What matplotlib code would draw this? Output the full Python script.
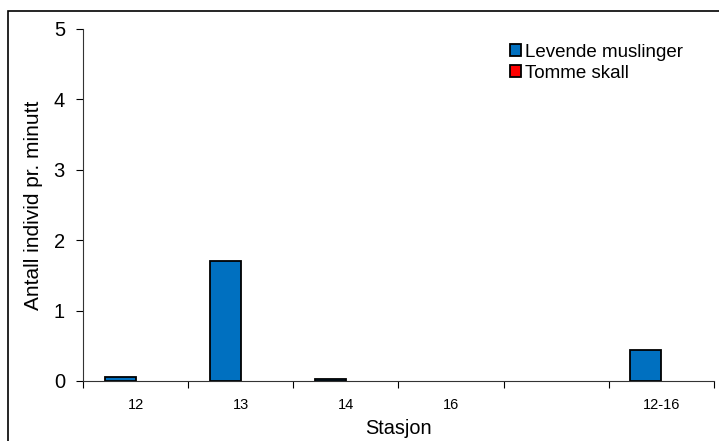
import numpy as np
import matplotlib.pyplot as plt
from matplotlib.patches import Rectangle, Patch

plt.rcParams['font.family'] = ['Liberation Sans', 'DejaVu Sans']

stations = ["12", "13", "14", "16", "", "12-16"]
levende = [0.05, 1.7, 0.025, 0, 0, 0.44]
tomme = [0, 0, 0, 0, 0, 0]

fig = plt.figure(figsize=(7.19, 4.41), dpi=100)
ax = fig.add_axes([83/719, 1 - 381/441, (714 - 83)/719, (381 - 29)/441])

# frame around the whole chart (cut by the image edge)
fig.patches.append(Rectangle((8/719, -0.2), 1.2, 0.2 + (441 - 11)/441,
                             transform=fig.transFigure, fill=False,
                             edgecolor="black", linewidth=1.2))

x = np.arange(len(stations))
w = 0.295
edges_l = ["black" if v > 0 else "none" for v in levende]
edges_t = ["black" if v > 0 else "none" for v in tomme]
ax.bar(x - w/2, levende, w, color="#0070C0", edgecolor=edges_l, linewidth=1.3)
ax.bar(x + w/2, tomme, w, color="#FF0000", edgecolor=edges_t, linewidth=1.3)

ax.set_xlim(-0.5, len(stations) - 0.5)
ax.set_ylim(0, 5)
ax.set_yticks(range(6))
ax.tick_params(axis="y", labelsize=14.5, length=5, direction="out", width=0.8, pad=8)
ax.set_xticks(x)
ax.set_xticklabels(stations, fontsize=10.5)
ax.tick_params(axis="x", length=0, pad=12)
ax.set_xticks(np.arange(len(stations) + 1) - 0.5, minor=True)
ax.tick_params(axis="x", which="minor", length=5, direction="out", width=0.8)

for s in ["top", "right"]:
    ax.spines[s].set_visible(False)
for s in ["left", "bottom"]:
    ax.spines[s].set_linewidth(0.8)
    ax.spines[s].set_color("#333333")

ax.set_ylabel("Antall individ pr. minutt", fontsize=15, labelpad=8)
ax.set_xlabel("Stasjon", fontsize=14.3, labelpad=5)

handles = [Patch(facecolor="#0070C0", edgecolor="black", linewidth=1.3),
           Patch(facecolor="#FF0000", edgecolor="black", linewidth=1.3)]
ax.legend(handles, ["Levende muslinger", "Tomme skall"], loc="upper left",
          bbox_to_anchor=(510/719, 1 - 44/441), bbox_transform=fig.transFigure,
          frameon=False, fontsize=13.5, handlelength=0.6, handleheight=0.6,
          handletextpad=0.2, labelspacing=0.2, borderaxespad=0, borderpad=0)

fig.savefig("out.png", dpi=100)
